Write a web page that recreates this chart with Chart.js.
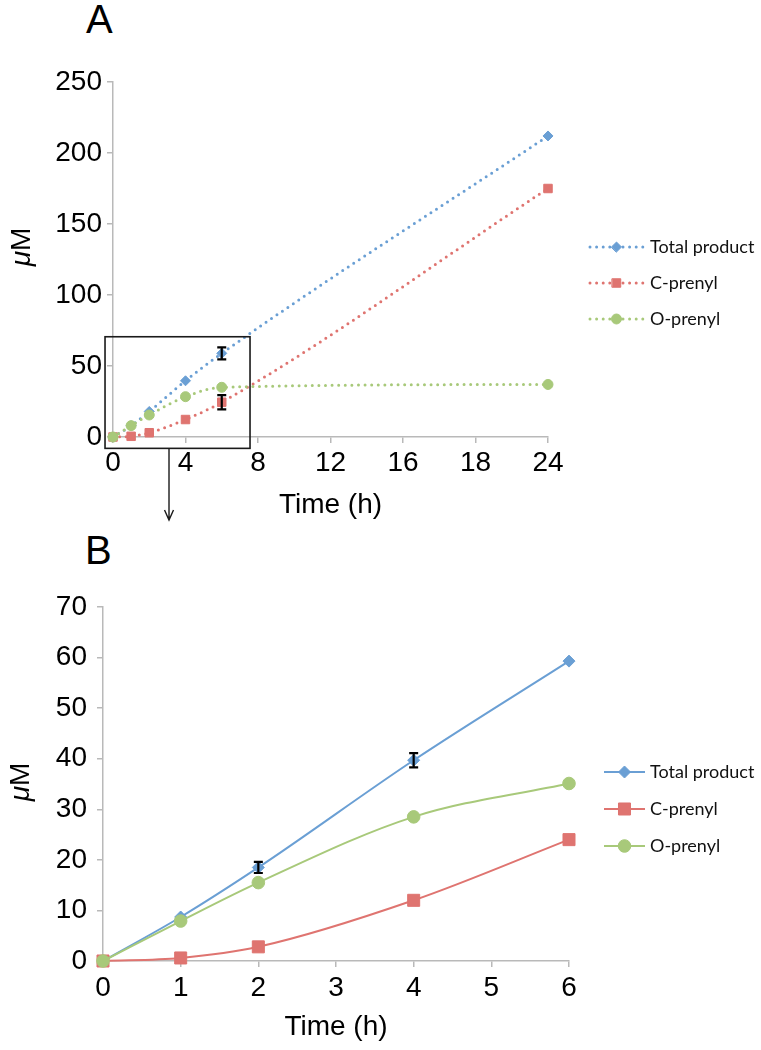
<!DOCTYPE html>
<html>
<head>
<meta charset="utf-8">
<script src="https://cdn.jsdelivr.net/npm/chart.js@4.4.1/dist/chart.umd.min.js"></script>
<style>
  html, body { margin:0; padding:0; background:#fff; }
  body { width:761px; height:1050px; position:relative; overflow:hidden; font-family:"Liberation Sans", Arial, sans-serif; }
  .panel { position:absolute; font-size:40px; line-height:40px; color:#000; font-family:"Liberation Sans", Arial, sans-serif; }
  #wa { position:absolute; left:0; top:0; width:761px; height:530px; }
  #wb { position:absolute; left:0; top:530px; width:761px; height:520px; }
</style>
</head>
<body>
<div class="panel" style="left:86px;top:-1px">A</div>
<div class="panel" style="left:85px;top:530px">B</div>
<div id="wa"><canvas id="ca" width="761" height="530"></canvas></div>
<div id="wb"><canvas id="cb" width="761" height="520"></canvas></div>
<script>
// ---------- DATA ----------
const seriesNames = ["Total product", "C-prenyl", "O-prenyl"];

// Panel A (0-24 h)
const timesA = [0, 1, 2, 4, 6, 24];
const totalA = [0, 8, 18, 39.6, 58.9, 212];
const cPrenylA = [0, 0.5, 3, 12.3, 24.5, 175];
const oPrenylA = [0, 8, 15.5, 28.4, 35, 37];
const errTotalA = [0, 0, 0, 0, 4.2, 0];
const errCPrenylA = [0, 0, 0, 0, 5, 0];
const errOPrenylA = [0, 0, 0, 0, 0, 0];
const xTickLabelsA = ["0", "4", "8", "12", "16", "18", "24"];

// Panel B (0-6 h)
const timesB = [0, 1, 2, 4, 6];
const totalB = [0, 8.7, 18.5, 39.7, 59.3];
const cPrenylB = [0, 0.6, 2.8, 12, 24];
const oPrenylB = [0, 7.9, 15.5, 28.5, 35.1];
const errTotalB = [0, 0, 1.1, 1.4, 0];
const errCPrenylB = [0, 0, 0, 0, 0];
const errOPrenylB = [0, 0, 0, 0, 0];
const xTickLabelsB = ["0", "1", "2", "3", "4", "5", "6"];

// ---------- STYLE ----------
const colBlue = "#6a9fd4";
const colRed = "#df7470";
const colGreen = "#a8c97a";
const axisGrey = "#b9b9b9";
const tickFont = { family: "'Liberation Sans', Arial, sans-serif", size: 28 };

function pts(xs, ys) { return xs.map((x, i) => ({ x: x, y: ys[i] })); }

// Error bars plugin
const errorBarPlugin = {
  id: "errorBars",
  afterDatasetsDraw(chart) {
    const ctx = chart.ctx;
    const xs = chart.scales.x, ys = chart.scales.y;
    ctx.save();
    ctx.strokeStyle = "#000";
    ctx.lineWidth = 2.2;
    chart.data.datasets.forEach(ds => {
      if (!ds.errors) return;
      ds.data.forEach((p, i) => {
        const e = ds.errors[i];
        if (!e) return;
        const x = xs.getPixelForValue(p.x);
        const y1 = ys.getPixelForValue(p.y + e);
        const y2 = ys.getPixelForValue(p.y - e);
        const cw = 4.5;
        ctx.beginPath();
        ctx.moveTo(x, y1); ctx.lineTo(x, y2);
        ctx.moveTo(x - cw, y1); ctx.lineTo(x + cw, y1);
        ctx.moveTo(x - cw, y2); ctx.lineTo(x + cw, y2);
        ctx.stroke();
      });
    });
    ctx.restore();
  }
};

// Custom legend plugin (line + marker + text)
const lineLegendPlugin = {
  id: "lineLegend",
  afterDraw(chart, args, opts) {
    if (!opts || !opts.display) return;
    const ctx = chart.ctx;
    ctx.save();
    chart.data.datasets.forEach((ds, i) => {
      const y = opts.y + i * opts.spacing;
      ctx.strokeStyle = ds.borderColor;
      ctx.lineWidth = ds.borderWidth;
      ctx.lineCap = ds.borderCapStyle || "butt";
      ctx.setLineDash(ds.borderDash || []);
      ctx.beginPath();
      ctx.moveTo(opts.x, y);
      ctx.lineTo(opts.x + opts.lineLen, y);
      ctx.stroke();
      ctx.setLineDash([]);
      ctx.lineWidth = 1;
      ctx.fillStyle = ds.pointBackgroundColor;
      ctx.strokeStyle = ds.pointBorderColor;
      Chart.helpers.drawPoint(ctx, { pointStyle: ds.pointStyle, radius: ds.pointRadius, borderWidth: 1, rotation: 0 }, opts.x + opts.lineLen / 2, y);
      ctx.fillStyle = "#111";
      ctx.font = opts.font;
      ctx.textBaseline = "middle";
      ctx.textAlign = "left";
      ctx.fillText(ds.label, opts.x + opts.lineLen + opts.gap, y);
    });
    ctx.restore();
  }
};

// Y axis title with italic mu
const yTitlePlugin = {
  id: "yTitleMu",
  afterDraw(chart, args, opts) {
    if (!opts || !opts.display) return;
    const ctx = chart.ctx;
    ctx.save();
    ctx.translate(opts.x, opts.y);
    ctx.rotate(-Math.PI / 2);
    ctx.fillStyle = "#000";
    ctx.textBaseline = "middle";
    const fItal = "italic " + opts.size + "px 'Liberation Sans', Arial, sans-serif";
    const fNorm = opts.size + "px 'Liberation Sans', Arial, sans-serif";
    ctx.font = fItal; const w1 = ctx.measureText(opts.first).width;
    ctx.font = fNorm; const w2 = ctx.measureText(opts.rest).width;
    const start = -(w1 + w2) / 2;
    ctx.textAlign = "left";
    ctx.font = fItal; ctx.fillText(opts.first, start, 0);
    ctx.font = fNorm; ctx.fillText(opts.rest, start + w1, 0);
    ctx.restore();
  }
};

// Inset box + arrow for panel A (given in data units)
const insetPlugin = {
  id: "insetBox",
  afterDraw(chart, args, opts) {
    if (!opts || !opts.display) return;
    const ctx = chart.ctx;
    const xs = chart.scales.x, ys = chart.scales.y;
    const l = xs.getPixelForValue(opts.x0), r = xs.getPixelForValue(opts.x1);
    const t = ys.getPixelForValue(opts.y1), b = ys.getPixelForValue(opts.y0);
    ctx.save();
    ctx.strokeStyle = "#1a1a1a";
    ctx.lineWidth = 1.6;
    ctx.strokeRect(l, t, r - l, b - t);
    const ax = xs.getPixelForValue(opts.arrowX);
    const ay = ys.getPixelForValue(opts.arrowY);
    ctx.lineWidth = 1.4;
    ctx.beginPath();
    ctx.moveTo(ax, b); ctx.lineTo(ax, ay);
    ctx.moveTo(ax - 4.5, ay - 10); ctx.lineTo(ax, ay); ctx.lineTo(ax + 4.5, ay - 10);
    ctx.stroke();
    ctx.restore();
  }
};

function makeDataset(label, data, errors, color, style, radius, dotted, order) {
  return {
    label: label,
    data: data,
    errors: errors,
    order: order,
    borderColor: color,
    backgroundColor: color,
    pointBackgroundColor: color,
    pointBorderColor: color,
    pointBorderWidth: 1,
    pointStyle: style,
    pointRadius: radius,
    pointHoverRadius: radius,
    borderWidth: dotted ? 3 : 2,
    borderDash: dotted ? [0, 6.6] : [],
    borderCapStyle: dotted ? "round" : "butt",
    cubicInterpolationMode: "monotone",
    fill: false,
    clip: false
  };
}

function axisCommon() {
  return {
    grid: { display: true, drawOnChartArea: false, drawTicks: true, tickLength: 6, color: axisGrey, lineWidth: 1.5 },
    border: { display: true, color: axisGrey, width: 1.5 }
  };
}

// ---------- CHART A ----------
new Chart(document.getElementById("ca"), {
  type: "line",
  data: {
    datasets: [
      makeDataset(seriesNames[0], pts(timesA, totalA), errTotalA, colBlue, "rectRot", 5, true, 3),
      makeDataset(seriesNames[1], pts(timesA, cPrenylA), errCPrenylA, colRed, "rect", 6, true, 2),
      makeDataset(seriesNames[2], pts(timesA, oPrenylA), errOPrenylA, colGreen, "circle", 5, true, 1)
    ]
  },
  options: {
    responsive: false,
    animation: false,
    devicePixelRatio: 1,
    layout: { padding: { top: 82, right: 213, left: 0, bottom: 0 } },
    plugins: {
      legend: { display: false },
      tooltip: { enabled: false },
      lineLegend: { display: true, x: 590, y: 247, spacing: 36, lineLen: 53, gap: 7, font: "18px Lato, 'Open Sans', sans-serif" },
      yTitleMu: { display: true, x: 22, y: 247, size: 28, first: "\u03bc", rest: "M" },
      insetBox: { display: true, x0: -0.44, x1: 7.56, y0: -8, y1: 70.6, arrowX: 3.09, arrowY: -58.5 }
    },
    scales: {
      x: Object.assign(axisCommon(), {
        type: "linear", min: 0, max: 24,
        ticks: { stepSize: 4, color: "#000", font: tickFont, padding: 3, maxRotation: 0,
                 callback: (v, i) => xTickLabelsA[i] },
        title: { display: true, text: "Time (h)", color: "#000", font: tickFont, padding: { top: 0, bottom: 8 } },
        afterFit: s => { s.height = 93; }
      }),
      y: Object.assign(axisCommon(), {
        type: "linear", min: 0, max: 250,
        ticks: { stepSize: 50, color: "#000", font: tickFont, padding: 5 },
        afterFit: s => { s.width = 113; }
      })
    }
  },
  plugins: [errorBarPlugin, lineLegendPlugin, yTitlePlugin, insetPlugin]
});

// ---------- CHART B ----------
new Chart(document.getElementById("cb"), {
  type: "line",
  data: {
    datasets: [
      makeDataset(seriesNames[0], pts(timesB, totalB), errTotalB, colBlue, "rectRot", 6, false, 3),
      makeDataset(seriesNames[1], pts(timesB, cPrenylB), errCPrenylB, colRed, "rect", 8.5, false, 2),
      makeDataset(seriesNames[2], pts(timesB, oPrenylB), errOPrenylB, colGreen, "circle", 6.3, false, 1)
    ]
  },
  options: {
    responsive: false,
    animation: false,
    devicePixelRatio: 1,
    layout: { padding: { top: 77, right: 192, left: 0, bottom: 0 } },
    plugins: {
      legend: { display: false },
      tooltip: { enabled: false },
      lineLegend: { display: true, x: 604, y: 242, spacing: 37, lineLen: 41, gap: 5, font: "18px Lato, 'Open Sans', sans-serif" },
      yTitleMu: { display: true, x: 21, y: 252, size: 28, first: "\u03bc", rest: "M" }
    },
    scales: {
      x: Object.assign(axisCommon(), {
        type: "linear", min: 0, max: 6,
        ticks: { stepSize: 1, color: "#000", font: tickFont, padding: 4, maxRotation: 0,
                 callback: (v, i) => xTickLabelsB[i] },
        title: { display: true, text: "Time (h)", color: "#000", font: tickFont, padding: { top: 0, bottom: 6 } },
        afterFit: s => { s.height = 89; }
      }),
      y: Object.assign(axisCommon(), {
        type: "linear", min: 0, max: 70,
        ticks: { stepSize: 10, color: "#000", font: tickFont, padding: 10 },
        afterFit: s => { s.width = 103; }
      })
    }
  },
  plugins: [errorBarPlugin, lineLegendPlugin, yTitlePlugin]
});
</script>
</body>
</html>
